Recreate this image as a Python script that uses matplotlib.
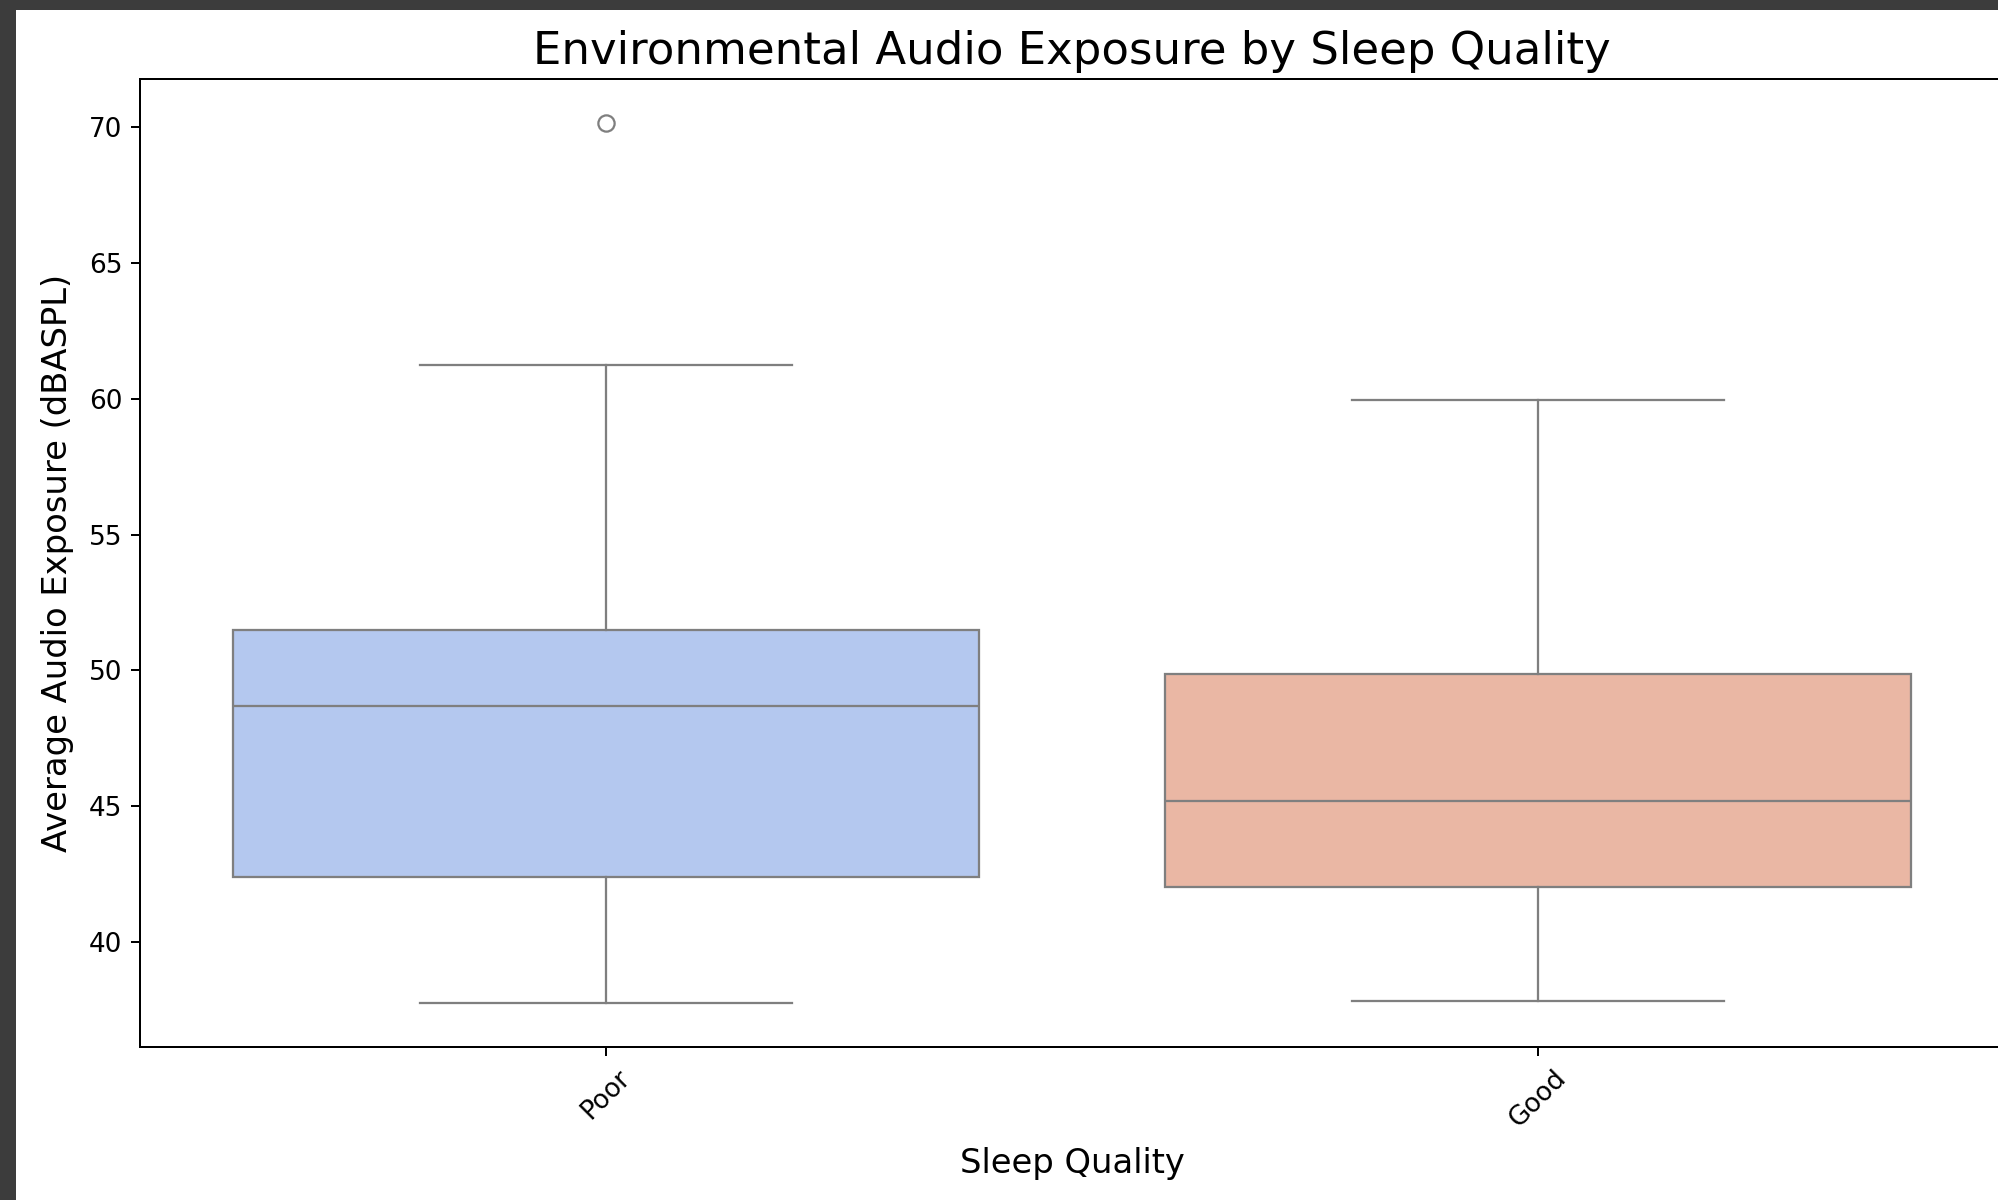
import matplotlib
matplotlib.use("Agg")
import matplotlib.pyplot as plt
from matplotlib.patches import Rectangle

# box stats
categories = ["Poor", "Good"]
whislo = [37.75, 37.84]
q1 = [42.39, 42.02]
med = [48.69, 45.21]
q3 = [51.50, 49.86]
whishi = [61.22, 59.95]
fliers = [[70.14], []]
colors = ["#b4c8ef", "#eab7a4"]

stats = []
for i in range(len(categories)):
    stats.append({"label": categories[i], "whislo": whislo[i], "q1": q1[i],
                  "med": med[i], "q3": q3[i], "whishi": whishi[i],
                  "fliers": fliers[i]})

fig = plt.figure(figsize=(1998 / 180, 1200 / 180), dpi=180)
fig.patch.set_facecolor("#3c3c3c")
# white page inside the screenshot frame
fig.patches.append(Rectangle((16 / 1998, 0), 1, 1 - 10 / 1200,
                             transform=fig.transFigure, facecolor="white",
                             edgecolor="none", zorder=-1))

ax = fig.add_axes([140 / 1998, 1 - 1047.4 / 1200, 1864 / 1998, 968.4 / 1200])

line_col = "#7f7f7f"
lw = 0.9
bp = ax.bxp(stats, positions=range(len(categories)), widths=0.8,
            patch_artist=True, showfliers=True,
            boxprops=dict(edgecolor=line_col, linewidth=lw),
            medianprops=dict(color=line_col, linewidth=lw),
            whiskerprops=dict(color=line_col, linewidth=lw),
            capprops=dict(color=line_col, linewidth=lw),
            capwidths=0.4,
            flierprops=dict(marker="o", markerfacecolor="none",
                            markeredgecolor=line_col, markersize=6.5,
                            markeredgewidth=lw))
for patch, c in zip(bp["boxes"], colors):
    patch.set_facecolor(c)

ax.set_xlim(-0.5, 1.5)
ax.margins(y=0.05)
ax.set_title("Environmental Audio Exposure by Sleep Quality", fontsize=18, pad=6)
ax.set_xlabel("Sleep Quality", fontsize=13.5, labelpad=6)
ax.set_ylabel("Average Audio Exposure (dBASPL)", fontsize=13.5, labelpad=6)
ax.tick_params(labelsize=10.5)
plt.xticks(rotation=45)

fig.savefig("out.png", dpi=180, facecolor=fig.get_facecolor())
